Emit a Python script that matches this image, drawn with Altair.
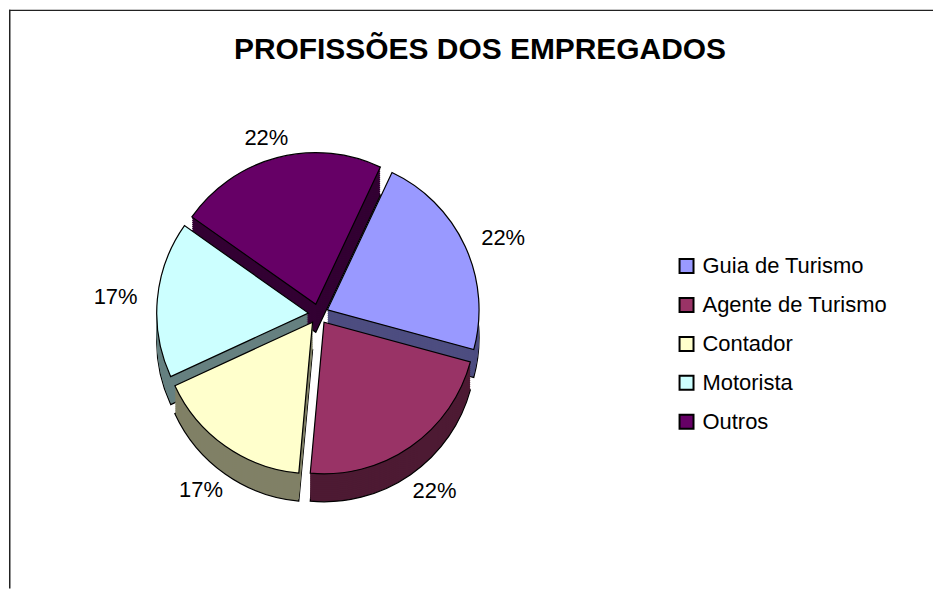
import altair as alt
import pandas as pd

categories = ["Guia de Turismo", "Agente de Turismo", "Contador", "Motorista", "Outros"]
values = [4, 4, 3, 3, 4]
top_colors = ["#9999FF", "#993366", "#FFFFCC", "#CCFFFF", "#660066"]
side_colors = ["#4D4D80", "#4D1A33", "#808066", "#668080", "#330033"]
title_text = "PROFISSÕES DOS EMPREGADOS"

W, H = 926, 580
CX, CY = 310, 305
R = 152
DEPTH = 28
EXPL = 10
START = 0.44
LABEL_RX = R + 52
LABEL_RY = R + 30
FONT = "Liberation Sans"

df = pd.DataFrame({"cat": categories, "value": values, "order": list(range(len(values)))})

base = (
    alt.Chart(df)
    .transform_joinaggregate(total="sum(value)")
    .transform_window(cum="sum(value)", sort=[alt.SortField("order")], frame=[None, 0])
    .transform_calculate(
        a1=f"{START} + 2*PI*datum.cum/datum.total",
    )
    .transform_calculate(
        a0="datum.a1 - 2*PI*datum.value/datum.total",
    )
    .transform_calculate(
        mid="(datum.a0 + datum.a1)/2",
        pct="datum.value/datum.total",
    )
    .transform_calculate(
        px=f"{CX} + {EXPL}*sin(datum.mid)",
        py=f"{CY} - {EXPL}*cos(datum.mid)",
        lx=f"{CX} + {LABEL_RX}*sin(datum.mid)",
        ly=f"{CY} - {LABEL_RY}*cos(datum.mid) + (cos(datum.mid) < 0 ? {DEPTH} : 0)",
        lbl="format(datum.pct, '.0%')",
    )
)

enc = dict(
    theta=alt.Theta("a0:Q", scale=None),
    theta2="a1:Q",
    x=alt.X("px:Q", scale=None),
    y=alt.Y("py:Q", scale=None),
)

side_scale = alt.Scale(domain=categories, range=side_colors)
layers = []
for i, d in enumerate(range(DEPTH, 0, -2)):
    if i == 0:
        m = base.mark_arc(radius=R, yOffset=d, stroke="black", strokeWidth=1.2)
    else:
        m = base.mark_arc(radius=R, yOffset=d)
    layers.append(m.encode(fill=alt.Fill("cat:N", scale=side_scale, legend=None), **enc))

top = base.mark_arc(radius=R, stroke="black", strokeWidth=1.2).encode(
    color=alt.Color(
        "cat:N",
        scale=alt.Scale(domain=categories, range=top_colors),
        legend=alt.Legend(
            title=None,
            orient="none",
            legendX=668,
            legendY=246,
            symbolType="square",
            symbolSize=196,
            symbolStrokeColor="black",
            symbolStrokeWidth=2,
            symbolOpacity=1,
            labelFont=FONT,
            labelFontSize=22,
            labelColor="black",
            labelOffset=5,
            labelLimit=400,
            rowPadding=17,
            padding=0,
        ),
    ),
    **enc,
)

labels = base.mark_text(font=FONT, fontSize=22, color="black", align="center", baseline="middle").encode(
    x=alt.X("lx:Q", scale=None),
    y=alt.Y("ly:Q", scale=None),
    text="lbl:N",
)

title = alt.Chart(pd.DataFrame({"t": [title_text]})).mark_text(
    font=FONT, fontSize=30, fontWeight="bold", color="black", align="center", baseline="alphabetic"
).encode(x=alt.value(472), y=alt.value(49), text="t:N")

border_left = alt.Chart(pd.DataFrame({"a": [0]})).mark_rule(color="#222222", strokeWidth=1.5).encode(
    x=alt.value(0.75), y=alt.value(0), y2=alt.value(H)
)
border_top = alt.Chart(pd.DataFrame({"a": [0]})).mark_rule(color="#222222", strokeWidth=1.5).encode(
    y=alt.value(0.75), x=alt.value(0), x2=alt.value(W)
)

chart = (
    alt.layer(*layers, top, labels, title, border_left, border_top)
    .resolve_scale(fill="independent", color="independent")
    .properties(width=W, height=H, padding=0, background="white")
    .configure_view(stroke=None)
)

chart.save("out.html", embed_options={"renderer": "svg", "actions": False})
